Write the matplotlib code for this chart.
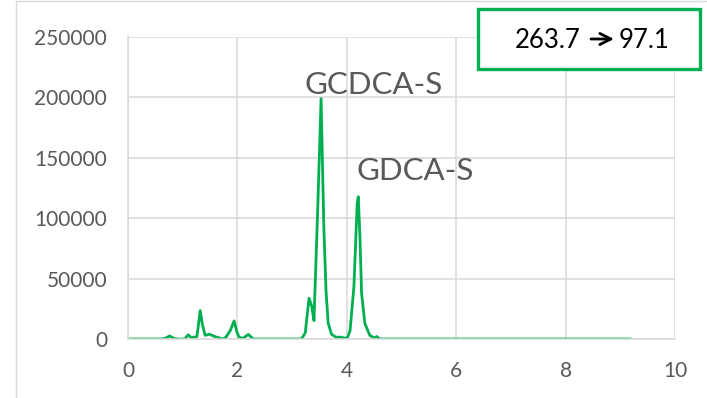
import matplotlib.pyplot as plt
from matplotlib.patches import Rectangle, FancyArrowPatch

plt.rcParams['font.family'] = ['Lato', 'DejaVu Sans']

# retention time (min) and intensity
rt = [0.0, 0.6, 0.68, 0.76, 0.84, 0.92, 1.04, 1.10, 1.16, 1.26, 1.32, 1.36,
      1.41, 1.49, 1.56, 1.62, 1.74, 1.79, 1.87, 1.94, 1.99, 2.03, 2.10, 2.20,
      2.29, 3.17, 3.24, 3.31, 3.36, 3.40, 3.47, 3.53, 3.58, 3.62, 3.66, 3.72,
      3.80, 3.90, 3.98, 4.02, 4.06, 4.13, 4.19, 4.21, 4.24, 4.27, 4.33, 4.42,
      4.50, 4.55, 4.60, 9.18]
intensity = [0, 0, 500, 2500, 500, 0, 0, 3500, 1000, 2000, 23500, 12000,
             3000, 4000, 2500, 1500, 0, 1500, 7000, 15000, 6000, 1500, 500, 3800,
             0, 0, 5000, 33700, 27000, 15200, 110000, 199000, 93000, 40000, 13000, 4000,
             1500, 1500, 500, 2000, 7000, 43300, 112000, 117800, 85000, 38000, 13000, 3000,
             1000, 2000, 0, 0]

peak_names = ['GCDCA-S', 'GDCA-S']
peak_label_pos = [(3.22, 203000), (4.17, 132000)]
precursor, product = '263.7', '97.1'

green = '#00B050'
grey_text = '#595959'
grid_col = '#D9D9D9'

fig = plt.figure(figsize=(7.07, 3.98), dpi=100)
ax = fig.add_axes([128 / 707, 1 - 339 / 398, (675 - 128) / 707, (339 - 37) / 398])

ax.plot(rt, intensity, color=green, lw=2.0, solid_joinstyle='round')

ax.set_xlim(0, 10)
ax.set_ylim(0, 250000)
ax.set_xticks(range(0, 11, 2))
ax.set_yticks(range(0, 250001, 50000))
ax.grid(True, color=grid_col, lw=1.1)
ax.set_axisbelow(True)
for s in ['top', 'right']:
    ax.spines[s].set_visible(False)
ax.spines['left'].set_color(grid_col)
ax.spines['bottom'].set_color(grid_col)
ax.spines['left'].set_linewidth(1.1)
ax.spines['bottom'].set_linewidth(1.1)
ax.tick_params(length=0, labelsize=15, labelcolor=grey_text)
ax.tick_params(axis='y', pad=15)
ax.tick_params(axis='x', pad=16)

for name, (x, y) in zip(peak_names, peak_label_pos):
    ax.text(x, y, name, fontsize=22.5, color=grey_text, ha='left', va='baseline')

# chart area border
fig.patches.append(Rectangle((16 / 707, -0.1), 1.2, 1.1 - 1 / 398,
                             transform=fig.transFigure, fill=False,
                             edgecolor=grid_col, lw=1.0))

# transition box
fig.patches.append(Rectangle((478 / 707, 1 - 69 / 398), (700 - 478) / 707, (69 - 9) / 398,
                             transform=fig.transFigure, facecolor='white',
                             edgecolor=green, lw=2.4, zorder=5))
ty = 1 - 40 / 398
fig.text(580 / 707, ty, precursor, fontsize=18.5, color='black',
         ha='right', va='center', zorder=6)
fig.patches.append(FancyArrowPatch((591 / 707, ty + 1 / 398), (614 / 707, ty + 1 / 398),
                                   transform=fig.transFigure, arrowstyle='->',
                                   mutation_scale=20, lw=2.0, color='black',
                                   shrinkA=0, shrinkB=0, zorder=7))
fig.text(619 / 707, ty, product, fontsize=18.5, color='black',
         ha='left', va='center', zorder=6)

fig.savefig('out.png', dpi=100)
